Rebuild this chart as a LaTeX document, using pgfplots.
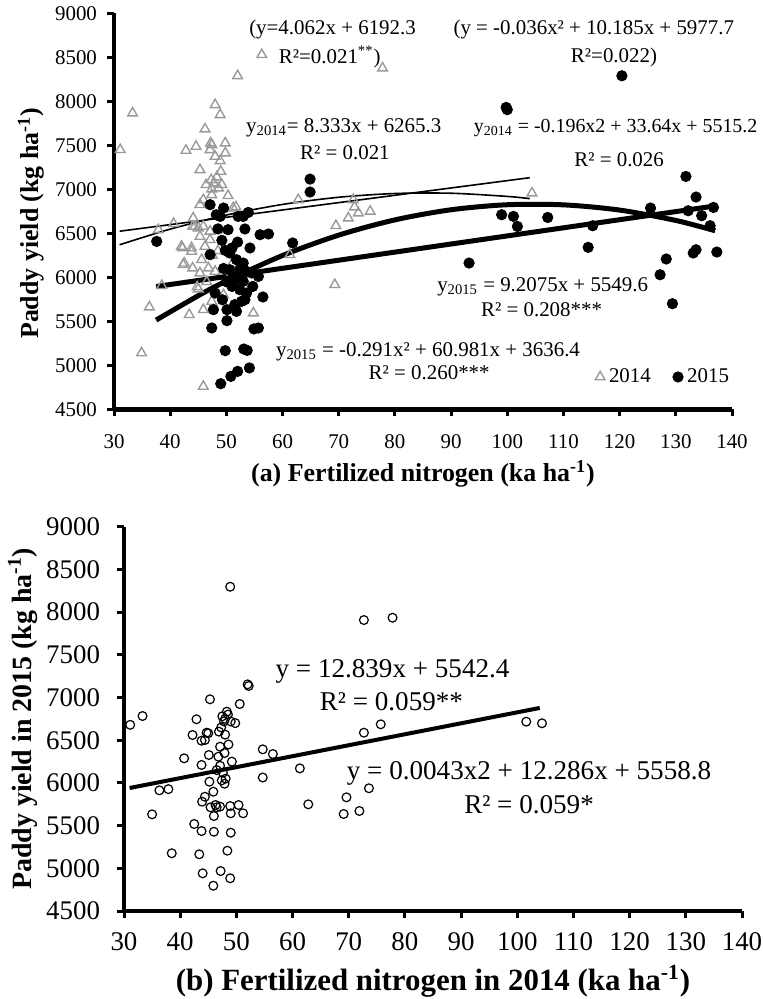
\documentclass[border=0pt]{standalone}
\usepackage{pgfplots}
\pgfplotsset{compat=1.18}
\usepackage{fontspec}
\setmainfont{Liberation Serif}
\definecolor{tri}{HTML}{9A9A9A}
\pgfplotsset{
  base/.style={scale only axis, width=309bp,
    xmin=30, xmax=140, ymin=4500, ymax=9000,
    xtick={30,40,...,140}, ytick={4500,5000,...,9000},
    axis lines*=left, axis line style={line width=2.4bp, black},
    tick align=outside, major tick length=3.5bp,
    major tick style={line width=1.5bp, black},
    /pgf/number format/assume math mode=true,
    /pgf/number format/1000 sep={},
    clip=false, anchor=south west,
  },
  dotlegend/.style={legend image code/.code={\draw[##1] plot coordinates {(0bp,0bp)};}},
}
\begin{document}
\begin{tikzpicture}
\useasboundingbox (0,0) rectangle (381.5bp,499.5bp);
% ---------------- (a) ----------------
\begin{axis}[base, at={(57bp,294.85bp)}, height=198bp,
  ticklabel style={font=\fontsize{10.5}{12}\selectfont},
  xticklabel style={yshift=-5.5bp},
  yticklabel style={xshift=-1.5bp},
  xlabel={(a) Fertilized nitrogen (ka ha\textsuperscript{-1})},
  ylabel={Paddy yield (kg ha\textsuperscript{-1})},
  xlabel style={font=\bfseries\fontsize{13}{15}\selectfont, at={(axis description cs:0.5,-0.163)}, anchor=center},
  ylabel style={font=\bfseries\fontsize{13}{15}\selectfont, at={(axis description cs:-0.134,0.47)}, anchor=center},
  legend style={draw=none, fill=none, at={(1.012,0.0816)}, anchor=east,
    font=\fontsize{10.5}{12}\selectfont, legend columns=2,
    /tikz/every even column/.append style={column sep=9bp}},
  legend cell align=left,
]
\addplot[only marks, mark=triangle, mark size=2.8bp, tri, mark options={line width=0.7bp}, dotlegend] table {
x y
31.1 7450
33.3 7866
34.9 5140
36.3 5662
37.9 6540
38.5 5905
40.6 6609
42.0 6351
42.2 6333
42.3 6143
42.5 6160
42.8 7441
43.4 5575
43.8 6294
43.8 6333
44.0 6105
44.0 6578
44.1 6673
44.4 6578
44.6 7487
44.8 5890
45.0 6560
45.0 5867
45.3 6825
45.3 6048
45.3 6464
45.3 7222
45.6 6200
45.9 6881
45.9 6578
45.9 5632
45.9 4760
46.2 6351
46.2 7685
46.4 7052
46.5 5950
46.8 6105
47.1 7449
47.1 6522
47.1 6427
47.2 7525
47.3 7108
47.4 7003
47.4 6938
47.4 5726
47.4 7506
47.5 6250
47.8 7071
48.0 7960
48.0 7373
48.0 6067
48.3 7139
48.5 6300
48.6 7014
48.6 6540
48.9 7847
48.9 7324
49.0 7203
49.2 7052
49.5 5800
49.8 7525
49.8 7412
50.3 6927
50.5 6000
51.0 6150
51.2 6787
51.7 6798
52.0 8290
54.8 5594
56.3 8529
61.3 6257
62.8 6881
69.3 5916
69.5 6586
71.7 6673
72.6 6881
72.8 6798
73.5 6730
75.6 6749
77.8 8377
104.4 6957
};
\addlegendentry{2014}
\addplot[only marks, mark=*, mark size=2.6bp, black, dotlegend] table {
x y
37.6 6408
47.1 6825
48.2 6711
49.5 6787
48.9 6692
50.3 6541
52.1 6692
53.0 6692
53.9 6737
53.3 6549
47.1 6257
49.2 6420
49.8 6306
51.0 6333
54.2 6333
56.0 6484
57.5 6492
61.8 6390
64.9 7116
64.9 6969
51.2 6007
48.0 5821
49.3 5745
47.7 5632
50.1 5632
51.8 5613
53.3 5745
54.7 5896
56.5 5776
50.1 5507
47.4 5424
54.9 5413
55.7 5424
49.8 5166
53.1 5185
53.7 5169
49.0 4791
50.8 4874
52.0 4931
54.1 4970
55.7 6010
54.5 6049
50.6 6276
51.8 6200
53.0 6162
52.4 6086
53.6 6067
50.6 6086
51.8 5973
53.0 5954
51.0 5896
52.4 5859
53.6 5821
52.7 5726
51.5 5689
49.5 6100
50.0 5950
52.0 6400
48.5 6550
99.8 7930
100.0 7905
120.4 8290
99.0 6711
101.1 6692
101.8 6578
107.2 6680
93.2 6162
115.2 6586
114.4 6340
125.5 6787
131.8 7146
133.6 6912
132.2 6756
134.6 6700
136.7 6794
136.1 6586
133.1 6276
133.6 6313
137.3 6287
128.3 6208
127.2 6029
129.4 5700
};
\addlegendentry{2015}
% trend lines 2014 (thin)
\addplot[black, line width=0.8bp, forget plot] table {
x y
31 6523.6
104 7131.9
};
\addplot[black, line width=0.8bp, smooth, forget plot] table {
x y
31 6369.7
40 6547.2
50 6707.2
60 6828.0
70 6909.6
80 6952.0
90 6955.2
100 6919.2
104 6893.9
};
% trend lines 2015 (thick)
\addplot[black, line width=2.5bp, forget plot] table {
x y
37.5 5894.9
137 6811.0
};
\addplot[black, line width=2.5bp, smooth, forget plot] table {
x y
37.5 5514.0
45 5791.2
50 5958.0
60 6247.7
70 6479.2
80 6652.5
90 6767.6
100 6824.5
110 6823.2
120 6763.7
130 6646.0
137 6529.0
};
\begin{scope}[font=\fontsize{10.5}{12}\selectfont]
\node at (axis cs:68.9,8811) {(y=4.062x + 6192.3};
\node at (axis cs:68.4,8503) {R²=0.021\textsuperscript{**})};
\node at (axis cs:70.9,7697) {y\textsubscript{2014}= 8.333x + 6265.3};
\node at (axis cs:71.1,7412) {R² = 0.021};
\node at (axis cs:115.4,8811) {(y = -0.036x² + 10.185x + 5977.7};
\node at (axis cs:119.0,8503) {R²=0.022)};
\node[font=\fontsize{10}{12}\selectfont] at (axis cs:119.3,7697) {y\textsubscript{2014} = -0.196x2 + 33.64x + 5515.2};
\node at (axis cs:119.9,7333) {R² = 0.026};
\node at (axis cs:106.3,5890) {y\textsubscript{2015} = 9.2075x + 5549.6};
\node at (axis cs:106.1,5629) {R² = 0.208***};
\node at (axis cs:85.9,5151) {y\textsubscript{2015} = -0.291x² + 60.981x + 3636.4};
\node at (axis cs:86.1,4913) {R² = 0.260***};
\end{scope}
\end{axis}
% ---------------- (b) ----------------
\begin{axis}[base, at={(62bp,44bp)}, height=192.15bp,
  ticklabel style={font=\fontsize{13.5}{15}\selectfont},
  xticklabel style={yshift=-4bp},
  yticklabel style={xshift=-5bp},
  xlabel={(b) Fertilized nitrogen in 2014 (ka ha\textsuperscript{-1})},
  ylabel={Paddy yield in 2015 (kg ha\textsuperscript{-1})},
  xlabel style={font=\bfseries\fontsize{15.5}{17}\selectfont, at={(axis description cs:0.5,-0.206)}, anchor=base},
  ylabel style={font=\bfseries\fontsize{14}{16}\selectfont, at={(axis description cs:-0.164,0.5)}, anchor=center},
]
\addplot[only marks, mark=o, mark size=2.2bp, black, mark options={line width=0.6bp}] table {
x y
48.9 8297
31.1 6680
33.3 6783
45.3 6979
42.9 6745
52.0 7154
52.2 7135
50.6 6924
48.3 6834
47.5 6780
48.0 6750
47.8 6720
48.5 6800
49.0 6720
49.8 6700
42.2 6561
45.0 6581
44.7 6588
48.0 6565
43.8 6494
44.4 6502
40.7 6288
43.8 6210
45.1 6327
47.1 6424
46.8 6307
49.2 6249
47.1 6200
47.6 6120
48.1 6050
47.4 6030
47.9 5990
45.2 6014
54.7 6393
56.5 6338
61.3 6170
54.7 6063
36.3 5913
37.9 5927
45.9 5897
44.4 5838
43.9 5780
45.4 5714
46.5 5714
47.1 5722
46.3 5741
46.0 5612
48.9 5729
50.4 5741
49.0 5644
51.2 5644
35.0 5632
42.5 5519
43.8 5436
46.0 5428
49.0 5417
38.5 5176
43.4 5164
48.4 5206
44.0 4941
47.2 4968
48.9 4883
45.9 4796
72.7 7907
77.8 7934
72.7 6588
75.7 6686
101.6 6717
104.4 6698
62.8 5749
69.6 5831
73.6 5937
69.1 5636
71.9 5671
47.3 6650
46.9 6600
48.6 6450
47.9 6350
46.5 6150
};
\addplot[black, line width=2bp] table {
x y
31 5940.4
104 6877.7
};
\begin{scope}[font=\fontsize{13.6}{15}\selectfont]
\node at (axis cs:77.8,7302) {y = 12.839x + 5542.4};
\node at (axis cs:77.6,6947) {R² = 0.059**};
\node at (axis cs:102.1,6112) {y = 0.0043x2 + 12.286x + 5558.8};
\node at (axis cs:102.1,5741) {R² = 0.059*};
\end{scope}
\end{axis}
\end{tikzpicture}
\end{document}
